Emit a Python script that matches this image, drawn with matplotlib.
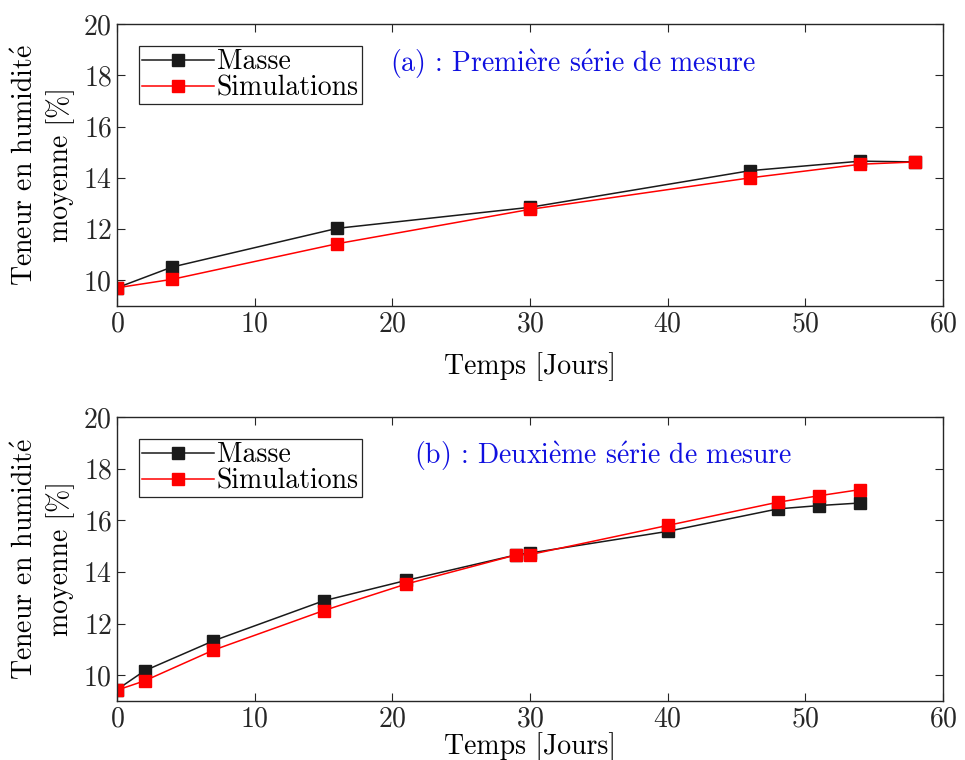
import matplotlib
matplotlib.use("Agg")
import matplotlib.pyplot as plt

plt.rcParams['font.family'] = ['cmr10', 'DejaVu Serif']
plt.rcParams['axes.formatter.use_mathtext'] = True
plt.rcParams['mathtext.fontset'] = 'cm'

# Panel (a)
days_a = [0, 4, 16, 30, 46, 54, 58]
masse_a = [9.71, 10.52, 12.03, 12.85, 14.28, 14.65, 14.62]
simul_a = [9.71, 10.04, 11.43, 12.77, 14.00, 14.53, 14.62]

# Panel (b)
days_b = [0, 2, 7, 15, 21, 29, 30, 40, 48, 51, 54]
masse_b = [9.44, 10.17, 11.33, 12.88, 13.67, 14.66, 14.73, 15.57, 16.44, 16.57, 16.67]
simul_b = [9.42, 9.78, 10.97, 12.50, 13.53, 14.66, 14.67, 15.80, 16.70, 16.95, 17.19]

series_labels = ["Masse", "Simulations"]
# "(a) : Première série de mesure", "(b) : Deuxième série de mesure"
# (accented letters drawn with mathtext so they stay in Computer Modern)
E_GRAVE = r"$\grave{\mathrm{e}}$"
E_ACUTE = r"$\acute{\mathrm{e}}$"
titles = ["(a) : Premi" + E_GRAVE + "re s" + E_ACUTE + "rie de mesure",
          "(b) : Deuxi" + E_GRAVE + "me s" + E_ACUTE + "rie de mesure"]
xlabel = "Temps [Jours]"
# "Teneur en humidité\nmoyenne [%]"
ylabel = "Teneur en humidit" + E_ACUTE + "\nmoyenne [%]"
xticks = [0, 10, 20, 30, 40, 50, 60]
yticks = [10, 12, 14, 16, 18, 20]

FS = 20
fig = plt.figure(figsize=(9.65, 7.6), dpi=100)
W, H = 965, 760
ax1 = fig.add_axes([117 / W, 1 - 306 / H, 826 / W, 282 / H])
ax2 = fig.add_axes([117 / W, 1 - 701 / H, 826 / W, 284 / H])

panels = [
    (ax1, days_a, masse_a, simul_a, titles[0], (0.33, 0.858)),
    (ax2, days_b, masse_b, simul_b, titles[1], (0.36, 0.863)),
]
for ax, d, m, s, title, tpos in panels:
    ax.plot(d, m, '-s', color='#1a1a1a', lw=1.1, ms=9, mfc='#1a1a1a', mec='#1a1a1a',
            label=series_labels[0])
    ax.plot(d, s, '-s', color='red', lw=1.1, ms=9, mfc='red', mec='red',
            label=series_labels[1])
    ax.set_xlim(0, 60)
    ax.set_ylim(9.0, 20)
    ax.set_xticks(xticks)
    ax.set_yticks(yticks)
    ax.tick_params(direction='in', top=True, right=True, labelsize=FS, length=6,
                   width=0.8, colors='#262626', labelcolor='#262626')
    for sp in ax.spines.values():
        sp.set_linewidth(1.0)
        sp.set_color('#262626')
    ax.set_xlabel(xlabel, fontsize=FS, labelpad=4)
    ax.set_ylabel(ylabel, fontsize=FS, labelpad=6, linespacing=1.3)
    ax.text(tpos[0], tpos[1], title, transform=ax.transAxes, color='#1010e0',
            fontsize=FS, va='center', ha='left')
    leg = ax.legend(loc='upper left', fontsize=FS, fancybox=False, framealpha=1,
                    edgecolor='#262626', borderpad=0.1, labelspacing=0.0,
                    handlelength=2.6, handletextpad=0.1, borderaxespad=0.8)
    leg.get_frame().set_linewidth(0.9)

ax1.xaxis.labelpad = 11
ax2.xaxis.labelpad = 0
fig.savefig("out.png", dpi=100)
